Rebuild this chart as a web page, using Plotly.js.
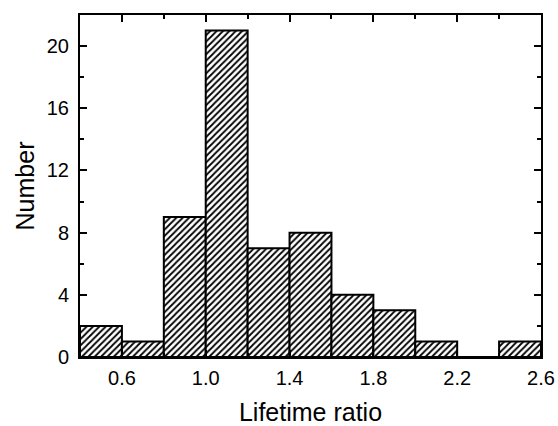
<!DOCTYPE html>
<html>
<head>
<meta charset="utf-8">
<script src="https://cdn.plot.ly/plotly-3.0.1.min.js"></script>
<style>html,body{margin:0;padding:0;background:#fff;}#chart{width:558px;height:426px;}</style>
</head>
<body>
<div id="chart"></div>
<script>
// Histogram bins (left edges) and counts
var binLeft = [0.4, 0.6, 0.8, 1.0, 1.2, 1.4, 1.6, 1.8, 2.0, 2.2, 2.4];
var binWidth = 0.2;
var counts = [2, 1, 9, 21, 7, 8, 4, 3, 1, 0, 1];
var xTicks = [0.6, 1.0, 1.4, 1.8, 2.2, 2.6];
var xTickText = ["0.6", "1.0", "1.4", "1.8", "2.2", "2.6"];
var xMinor = [0.8, 1.2, 1.6, 2.0, 2.4];
var yTicks = [0, 4, 8, 12, 16, 20];
var yMinor = [2, 6, 10, 14, 18];

var trace = {
  type: 'bar',
  x: binLeft,
  y: counts,
  width: binLeft.map(function(){ return binWidth; }),
  offset: 0,
  marker: {
    color: 'white',
    line: {color: 'black', width: 2},
    pattern: {shape: '/', fgcolor: 'black', bgcolor: 'white', size: 4.5, solidity: 0.4}
  },
  hoverinfo: 'none'
};

var fontFam = 'Liberation Sans, Arial, Helvetica, sans-serif';
var layout = {
  width: 558, height: 426,
  margin: {l: 80, r: 17, t: 15, b: 69},
  paper_bgcolor: 'white', plot_bgcolor: 'white',
  showlegend: false,
  bargap: 0,
  font: {family: fontFam, color: 'black'},
  xaxis: {
    range: [0.4, 2.6],
    tickmode: 'array', tickvals: xTicks, ticktext: xTickText,
    ticks: 'inside', ticklen: 7, tickwidth: 2, tickcolor: 'black',
    minor: {tickmode: 'array', tickvals: xMinor, ticks: 'inside', ticklen: 4, tickwidth: 2, tickcolor: 'black'},
    showline: true, linewidth: 2, linecolor: 'black', mirror: 'allticks',
    showgrid: false, zeroline: false,
    ticklabelstandoff: 2,
    tickfont: {size: 20, family: fontFam, color: 'black'},
    title: {text: 'Lifetime ratio', font: {size: 25, family: fontFam, color: 'black'}, standoff: 16}
  },
  yaxis: {
    range: [0, 22],
    tickmode: 'array', tickvals: yTicks,
    ticks: 'inside', ticklen: 7, tickwidth: 2, tickcolor: 'black',
    minor: {tickmode: 'array', tickvals: yMinor, ticks: 'inside', ticklen: 4, tickwidth: 2, tickcolor: 'black'},
    showline: true, linewidth: 2, linecolor: 'black', mirror: 'allticks',
    showgrid: false, zeroline: false,
    ticklabelstandoff: 5,
    tickfont: {size: 20, family: fontFam, color: 'black'},
    title: {text: 'Number', font: {size: 25, family: fontFam, color: 'black'}, standoff: 5}
  }
};

Plotly.newPlot('chart', [trace], layout, {staticPlot: true, displayModeBar: false});
</script>
</body>
</html>
